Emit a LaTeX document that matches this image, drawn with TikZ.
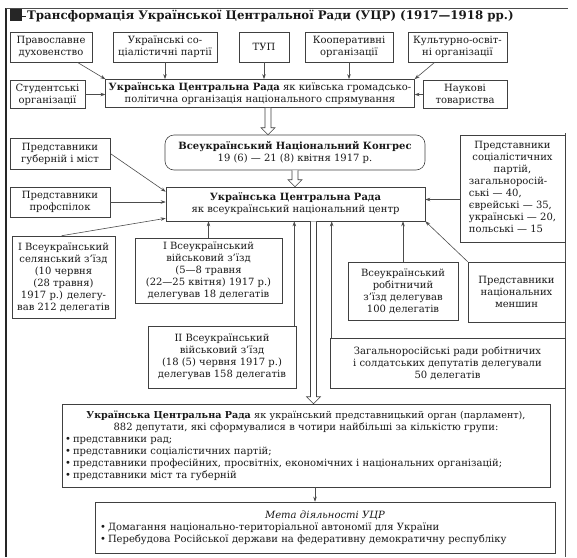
\documentclass[tikz,border=0pt]{standalone}
\usepackage{fontspec}
\setmainfont{DejaVu Serif}
\usetikzlibrary{arrows.meta,calc}

\tikzset{
  box/.style={draw=black!75, line width=0.6pt, inner sep=3pt, align=center,
    font=\fontsize{10}{12}\selectfont, text=black!90},
  conn/.style={draw=black!70, line width=0.6pt},
  arr/.style={conn, -{Stealth[length=5pt,width=3.5pt]}},
  hollow/.style={draw=black!75, line width=0.6pt, fill=white},
}

\newcommand\boxnode[7]{\node[box,minimum width={(#4-#2)*1pt},minimum height={(#5-#3)*1pt},#6] (#1) at ({(#2+#4)/2},{(#3+#5)/2}) {#7};}
\newcommand\hollowarr[2]{\draw[hollow] let \p1=(#1), \p2=(#2) in
  (\x1-3pt,\y1) -- (\x1-3pt,\y2+7pt) -- (\x1-7pt,\y2+7pt) -- (\x1,\y2) --
  (\x1+7pt,\y2+7pt) -- (\x1+3pt,\y2+7pt) -- (\x1+3pt,\y1);}
\newcommand\bul{\makebox[8pt][l]{•}}
\newcommand\cl[1]{\multicolumn{1}{@{}c@{}}{#1}}

\begin{document}
\begin{tikzpicture}[x=1pt,y=-1pt]
\useasboundingbox (0,0) rectangle (577,557);

% frame
\draw[line width=1.6pt, black!85] (6,8) -- (6,557);
\draw[conn] (6,8) -- (568,8);
\draw[conn] (565,133) -- (565,557);

% title
\fill[black!85] (10,9) rectangle (22,21);
\draw[line width=1pt, black!85] (22,16) -- (26,16);
\node[anchor=west, inner sep=0, font=\bfseries\fontsize{11.8}{14}\selectfont, text=black!90] (title) at (27,16)
  {Трансформація Української Центральної Ради (УЦР) (1917—1918 рр.)};

% row 1
\boxnode{prav}{10}{32}{92}{62}{}{Православне\\духовенство}
\boxnode{usp}{113}{32}{217}{62}{}{Українські со-\\ціалістичні партії}
\boxnode{tup}{239}{32}{289}{62}{}{ТУП}
\boxnode{coop}{305}{32}{393}{62}{}{Кооперативні\\організації}
\boxnode{cult}{408}{32}{507}{62}{}{Культурно-освіт-\\ні організації}

% row 2
\boxnode{stud}{10}{83}{85}{106}{}{Студентські\\організації}
\boxnode{ucr1}{113}{82}{407}{105}{}{\textbf{Українська Центральна Рада} як київська громадсько-\\політична організація національного спрямування}
\boxnode{nauk}{423}{83}{507}{106}{}{Наукові\\товариства}

% congress and centre
\boxnode{congr}{165}{135}{425}{170}{rounded corners=9pt}{\textbf{Всеукраїнський Національний Конгрес}\\19 (6) — 21 (8) квітня 1917 р.}
\boxnode{gub}{10}{138}{110}{169}{}{Представники\\губерній і міст}
\boxnode{prof}{10}{187}{110}{217}{}{Представники\\профспілок}
\boxnode{ucr2}{166}{187}{425}{221}{}{\textbf{Українська Центральна Рада}\\як всеукраїнський національний центр}
\boxnode{soc}{460}{135}{565}{242}{}{\begin{tabular}{@{}l@{}}\cl{Представники}\\\cl{соціалістичних}\\\cl{партій,}\\загальноросій-\\ські — 40,\\єврейські — 35,\\українські — 20,\\польські — 15\end{tabular}}

% congresses
\boxnode{sel}{12}{236}{115}{318}{}{I Всеукраїнський\\селянський з’їзд\\(10 червня\\(28 травня)\\1917 р.) делегу-\\вав 212 делегатів}
\boxnode{mil1}{135}{238}{282}{303}{}{I Всеукраїнський\\військовий з’їзд\\(5—8 травня\\(22—25 квітня) 1917 р.)\\делегував 18 делегатів}
\boxnode{mil2}{148}{326}{296}{388}{}{II Всеукраїнський\\військовий з’їзд\\(18 (5) червня 1917 р.)\\делегував 158 делегатів}
\boxnode{rob}{348}{262}{458}{320}{}{Всеукраїнський\\робітничий\\з’їзд делегував\\100 делегатів}
\boxnode{mensh}{468}{262}{565}{322}{}{Представники\\національних\\меншин}
\boxnode{zag}{330}{338}{565}{388}{}{Загальноросійські ради робітничих\\і солдатських депутатів делегували\\50 делегатів}

% parliament
\boxnode{big}{62}{404}{550}{487}{text width=482pt, align=left}{{\centering\mbox{\fontsize{9.6}{12}\selectfont\textbf{Українська Центральна Рада} як український представницький орган (парламент),}\\\mbox{882 депутати, які сформувалися в чотири найбільші за кількістю групи:}\par}
\mbox{\bul представники рад;}\\
\mbox{\bul представники соціалістичних партій;}\\
\mbox{\bul представники професійних, просвітніх, економічних і національних організацій;}\\
\mbox{\bul представники міст та губерній}}

\boxnode{meta}{95}{502}{555}{553}{text width=450pt, inner xsep=5pt, align=left}{{\centering\mbox{\textit{Мета діяльності УЦР}}\par}
\mbox{\bul Домагання національно-територіальної автономії для України}\\
\mbox{\bul Перебудова Російської держави на федеративну демократичну республіку}}

% connectors, top part
\draw[arr] ($(prav.south east)+(-15,0)$) -- (ucr1.north west);
\draw[arr] (usp.south) -- (usp.south |- ucr1.north);
\draw[arr] (tup.south) -- (tup.south |- ucr1.north);
\draw[arr] (coop.south) -- (coop.south |- ucr1.north);
\draw[arr] ($(cult.south west)+(27,0)$) -- (ucr1.north east);
\draw[arr] (stud.east) -- (stud.east -| ucr1.west);
\draw[arr] (nauk.west) -- (nauk.west -| ucr1.east);

\hollowarr{$(ucr1.south)+(8,0)$}{congr.north}
\hollowarr{congr.south}{ucr2.north}
\hollowarr{$(ucr2.south)+(18,0)$}{big.north}

% connectors into the centre
\draw[arr] (gub.east) -- ($(ucr2.north west)+(0,5)$);
\draw[arr] (prof.east) -- (prof.east -| ucr2.west);
\draw[arr] ($(sel.north west)+(50,0)$) -- ($(ucr2.south west)+(0,-3)$);
\draw[arr] (mil1.north) -- (mil1.north |- ucr2.south);
\coordinate (m2top) at ($(mil2.north east)+(-2,0)$);
\draw[arr] (m2top) -- (m2top |- ucr2.south);
\coordinate (zagtop) at ($(zag.north west)+(2,0)$);
\draw[arr] (zagtop) -- (zagtop |- ucr2.south);
\draw[arr] (rob.north) -- (rob.north |- ucr2.south);
\draw[arr] (mensh.north west) -- (ucr2.south east);
\coordinate (socw) at ($(soc.west)+(0,11)$);
\draw[arr] (socw) -- (socw -| ucr2.east);

\coordinate (bigb) at ($(big.south)+(9,0)$);
\draw[arr] (bigb) -- (bigb |- meta.north);
\end{tikzpicture}
\end{document}
